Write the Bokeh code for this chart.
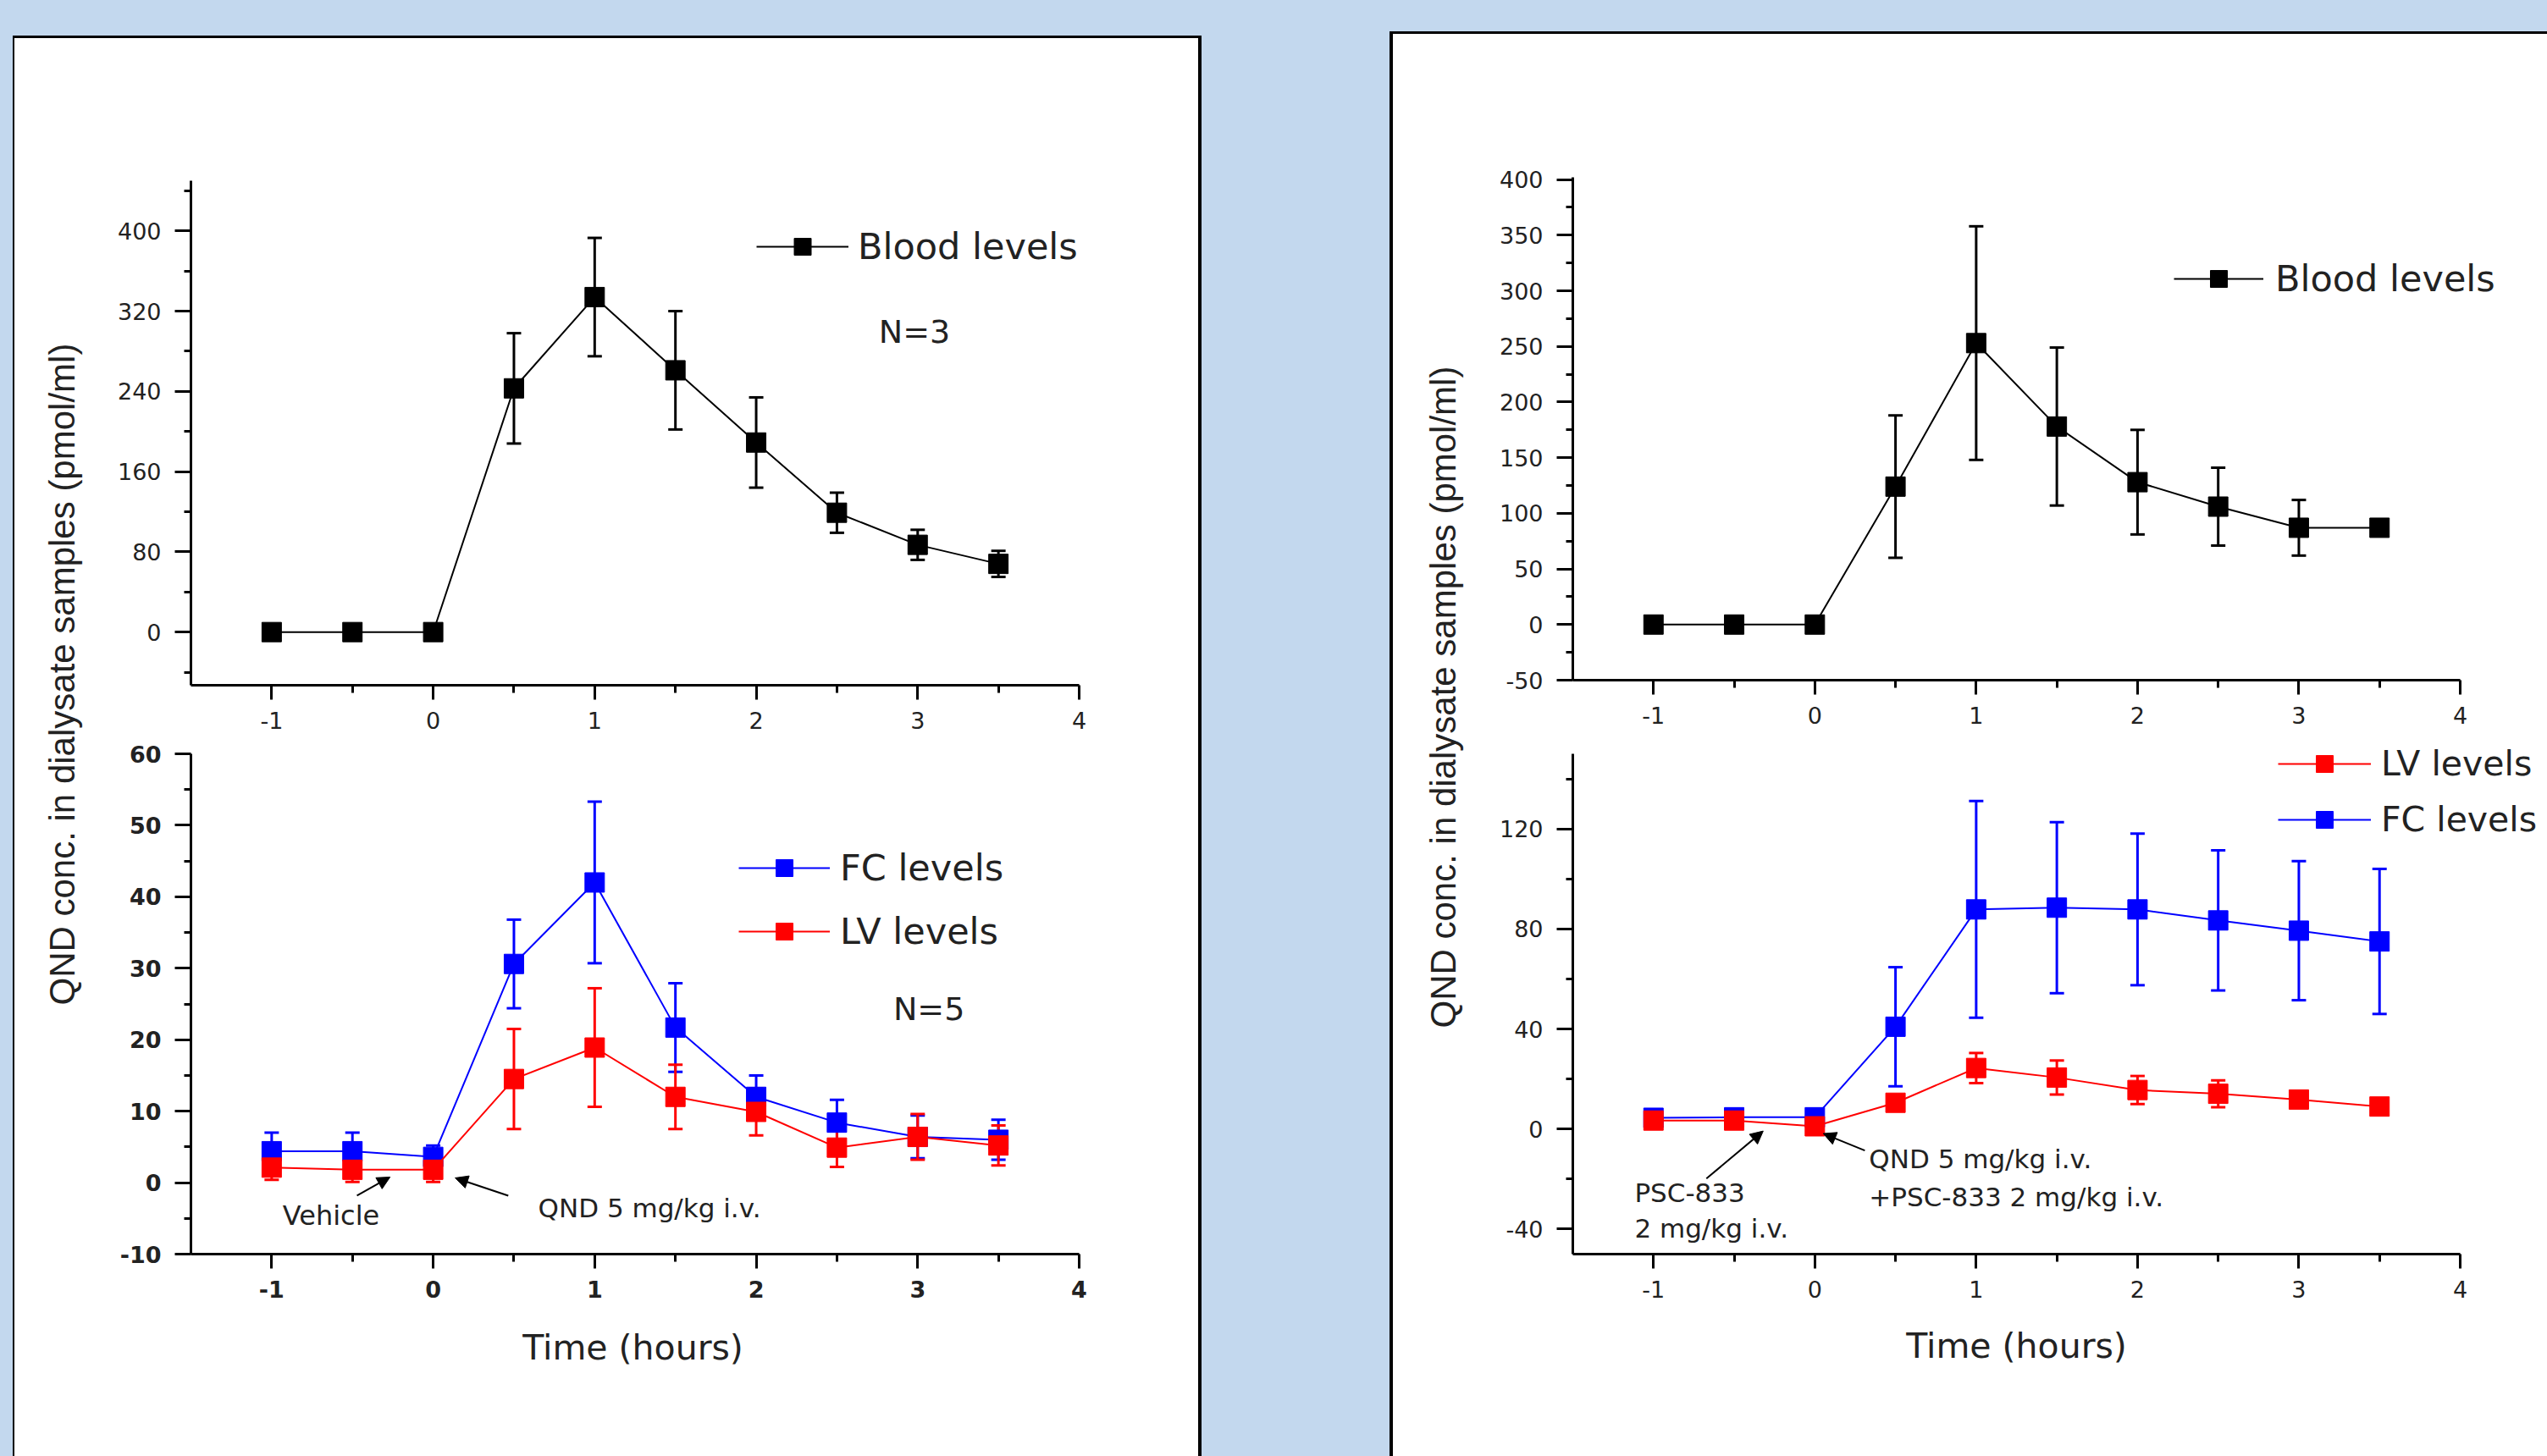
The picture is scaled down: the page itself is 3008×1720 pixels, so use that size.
import math
from bokeh.plotting import figure
from bokeh.layouts import row, column
from bokeh.models import (Spacer, Range1d, FixedTicker, Whisker, TeeHead, ColumnDataSource,
                          Legend, LegendItem, Label, Arrow, NormalHead)
from bokeh.embed import file_html
from bokeh.resources import INLINE

# ---------------- data ----------------
time_h = [-1, -0.5, 0, 0.5, 1, 1.5, 2, 2.5, 3, 3.5]

blood_left = [0, 0, 0, 243, 334, 261, 189, 119, 87, 68]
blood_left_err = [0, 0, 0, 55, 59, 59, 45, 20, 15, 13]
fc_left = [4.4, 4.4, 3.6, 30.6, 42.0, 21.7, 12.0, 8.4, 6.4, 6.0]
fc_left_err = [2.6, 2.6, 1.6, 6.2, 11.3, 6.2, 3.0, 3.2, 3.0, 2.8]
lv_left = [2.1, 1.8, 1.8, 14.5, 18.9, 12.0, 9.9, 4.9, 6.4, 5.2]
lv_left_err = [1.7, 1.7, 1.7, 7.0, 8.3, 4.5, 3.3, 2.7, 3.2, 2.8]

blood_right = [0, 0, 0, 124, 253, 178, 128, 106, 87, 87]
blood_right_err = [0, 0, 0, 64, 105, 71, 47, 35, 25, 3]
fc_right = [4.5, 4.7, 4.7, 40.9, 87.8, 88.5, 87.8, 83.4, 79.3, 75.0]
fc_right_err = [2, 2, 2, 23.8, 43.3, 34.2, 30.3, 28.0, 27.8, 29.0]
lv_right = [3.4, 3.4, 1.1, 10.5, 24.4, 20.6, 15.6, 14.1, 11.8, 9.0]
lv_right_err = [1.5, 1.5, 1.5, 2.0, 6.0, 6.8, 5.6, 5.4, 2.0, 1.5]

x_ticks = [-1, 0, 1, 2, 3, 4]
x_tick_labels = ["-1", "0", "1", "2", "3", "4"]
tl_y_ticks = [0, 80, 160, 240, 320, 400]
bl_y_ticks = [-10, 0, 10, 20, 30, 40, 50, 60]
tr_y_ticks = [-50, 0, 50, 100, 150, 200, 250, 300, 350, 400]
br_y_ticks = [-40, 0, 40, 80, 120]

y_label = "QND conc. in dialysate samples (pmol/ml)"
x_label = "Time (hours)"

BLUE_BG = "#C3D8EE"
TXT = "#222222"
FONT = "DejaVu Sans"
X_BOUNDS = (-1.5, 4)


def block(w, h, c):
    return Spacer(width=w, height=h, styles={"background-color": c})


def minor_of(ticks, lo, hi):
    step = ticks[1] - ticks[0]
    out = []
    for t in [ticks[0] - step] + ticks:
        m = t + step / 2
        if lo < m < hi:
            out.append(m)
    return out


def make_plot(width, height, xr, yr, mb, yticks, ybounds, bold=False):
    p = figure(width=width, height=height, x_range=Range1d(*xr), y_range=Range1d(*yr),
               min_border_left=mb[0], min_border_right=mb[1], min_border_top=mb[2],
               min_border_bottom=mb[3], toolbar_location=None, output_backend="svg",
               background_fill_color="white", border_fill_color="white")
    p.outline_line_color = None
    p.grid.visible = False
    xa = p.xaxis[0]
    ya = p.yaxis[0]
    for ax in (xa, ya):
        ax.axis_line_width = 3
        ax.axis_line_color = "black"
        ax.major_tick_line_width = 3
        ax.minor_tick_line_width = 3
        ax.major_tick_in = 0
        ax.minor_tick_in = 0
        ax.major_label_text_font = FONT
        ax.major_label_text_font_size = "27px"
        ax.major_label_text_color = TXT
        if bold:
            ax.major_label_text_font_style = "bold"
    xa.bounds = X_BOUNDS
    ya.bounds = ybounds
    xa.major_tick_out = 17
    xa.minor_tick_out = 9
    xa.major_label_standoff = 14
    ya.major_tick_out = 19
    ya.minor_tick_out = 8
    ya.major_label_standoff = 16
    xa.ticker = FixedTicker(ticks=x_ticks, minor_ticks=minor_of(x_ticks, X_BOUNDS[0], X_BOUNDS[1]))
    xa.major_label_overrides = {t: l for t, l in zip(x_ticks, x_tick_labels)}
    ya.ticker = FixedTicker(ticks=yticks, minor_ticks=minor_of(yticks, ybounds[0], ybounds[1]))
    ya.major_label_overrides = {t: str(t) for t in yticks}
    return p


def add_series(p, x, y, err, color):
    src = ColumnDataSource(dict(x=x, y=y,
                                upper=[a + b for a, b in zip(y, err)],
                                lower=[a - b for a, b in zip(y, err)]))
    w = Whisker(base="x", upper="upper", lower="lower", source=src,
                line_color=color, line_width=3,
                upper_head=TeeHead(size=17, line_color=color, line_width=3),
                lower_head=TeeHead(size=17, line_color=color, line_width=3))
    p.add_layout(w)
    l = p.line("x", "y", source=src, line_color=color, line_width=2)
    s = p.scatter("x", "y", source=src, marker="square", size=23,
                  fill_color=color, line_color=color)
    return [l, s]


def add_legend(p, items, loc, glyph_w, standoff, spacing, size="43px"):
    lg = Legend(items=[LegendItem(label=lab, renderers=r) for lab, r in items],
                location=loc, padding=0, margin=0, spacing=spacing,
                glyph_width=glyph_w, glyph_height=50, label_height=50,
                label_standoff=standoff, label_text_font=FONT,
                label_text_font_size=size, label_text_color=TXT,
                background_fill_alpha=0, border_line_alpha=0)
    p.add_layout(lg, "center")


def text(p, x, y, t, size="31px", align="left"):
    p.add_layout(Label(x=x, y=y, text=t, text_font=FONT, text_font_size=size,
                       text_color=TXT, text_align=align, text_baseline="middle"))


def arrow(p, x0, y0, x1, y1):
    p.add_layout(Arrow(end=NormalHead(size=15, fill_color="black", line_color="black"),
                       x_start=x0, y_start=y0, x_end=x1, y_end=y1,
                       line_width=2, line_color="black"))


def label_fig(width, height, xf, yf, txt, angle, font, size):
    p = figure(width=width, height=height, x_range=Range1d(0, 1), y_range=Range1d(0, 1),
               x_axis_location=None, y_axis_location=None, min_border=0,
               toolbar_location=None, output_backend="svg",
               background_fill_color="white", border_fill_color="white")
    p.outline_line_color = None
    p.grid.visible = False
    p.add_layout(Label(x=xf, y=yf, text=txt, angle=angle,
                       text_font=font, text_font_size=size,
                       text_color=TXT, text_align="center", text_baseline="middle"))
    return p


WHITE = {"background-color": "white"}

# ---------------- left panel ----------------
XR_L = (-1.5, 4.7393)
fig_tl = make_plot(1298, 830, XR_L, (-53, 450), (108, 0, 168, 66), tl_y_ticks, (-53, 450))
r_blood_l = add_series(fig_tl, time_h, blood_left, blood_left_err, "black")
add_legend(fig_tl, [("Blood levels", r_blood_l)], (668, 493), 109, 11, 0)
text(fig_tl, 2.98, 299, "N=3", size="38px", align="center")

fig_bl = make_plot(1298, 675, XR_L, (-10, 60), (108, 0, 15, 69), bl_y_ticks, (-10, 60), bold=True)
r_fc_l = add_series(fig_bl, time_h, fc_left, fc_left_err, "#0000FF")
r_lv_l = add_series(fig_bl, time_h, lv_left, lv_left_err, "#FF0000")
add_legend(fig_bl, [("FC levels", r_fc_l), ("LV levels", r_lv_l)], (647, 356), 108, 12, 25)
text(fig_bl, 3.07, 24.3, "N=5", size="38px", align="center")
text(fig_bl, -0.632, -4.66, "Vehicle", size="32px", align="center")
text(fig_bl, 0.65, -3.6, "QND 5 mg/kg i.v.")
arrow(fig_bl, -0.472, -1.82, -0.267, 0.78)
arrow(fig_bl, 0.465, -1.82, 0.136, 0.66)

# frame of this figure is aligned with the plots above (left border 108, width 1190)
xlab_l = label_fig(1298, 170, 0.4387, 0.753, x_label, 0, FONT, "41px")

ylab_l = label_fig(100, 1675, 0.559, 0.5516, y_label, math.pi / 2, "Liberation Sans", "42px")
left_panel = column(
    block(1404, 42, BLUE_BG),
    block(1404, 3, "black"),
    row(block(2, 1675, "black"), ylab_l, column(fig_tl, fig_bl, xlab_l, styles=WHITE),
        block(4, 1675, "black"), styles=WHITE),
)

# ---------------- right panel ----------------
XR_R = (-1.5, 4.5406)
fig_tr = make_plot(1263, 835, XR_R, (-50, 402), (112, 0, 169, 72), tr_y_ticks, (-50, 402))
r_blood_r = add_series(fig_tr, time_h, blood_right, blood_right_err, "black")
add_legend(fig_tr, [("Blood levels", r_blood_r)], (710, 449), 106, 14, 0)

fig_br = make_plot(1263, 677, XR_R, (-50, 155.08), (112, 0, 0, 71), br_y_ticks, (-50, 150))
r_fc_r = add_series(fig_br, time_h, fc_right, fc_right_err, "#0000FF")
r_lv_r = add_series(fig_br, time_h, lv_right, lv_right_err, "#FF0000")
add_legend(fig_br, [("LV levels", r_lv_r), ("FC levels", r_fc_r)], (833, 488), 110, 12, 16,
           size="41px")
text(fig_br, -1.1175, -25.5, "PSC-833")
text(fig_br, -1.1175, -39.7, "2 mg/kg i.v.")
text(fig_br, 0.336, -12.0, "QND 5 mg/kg i.v.")
text(fig_br, 0.336, -27.2, "+PSC-833 2 mg/kg i.v.")
arrow(fig_br, -0.672, -19.8, -0.32, -0.8)
arrow(fig_br, 0.31, -8.6, 0.052, -1.8)

# frame aligned with the plots above (left border 112, width 1151)
xlab_r = label_fig(1263, 168, 0.4553, 0.774, x_label, 0, FONT, "41px")

ylab_r = label_fig(100, 1680, 0.585, 0.5339, y_label, math.pi / 2, "Liberation Sans", "42px")
right_panel = column(
    block(1367, 37, BLUE_BG),
    block(1367, 3, "black"),
    row(block(4, 1680, "black"), ylab_r, column(fig_tr, fig_br, xlab_r, styles=WHITE),
        styles=WHITE),
)

p = row(block(15, 1720, BLUE_BG), left_panel, block(222, 1720, BLUE_BG), right_panel,
        styles={"background-color": BLUE_BG})

open("out.html", "w").write(file_html(p, INLINE))
